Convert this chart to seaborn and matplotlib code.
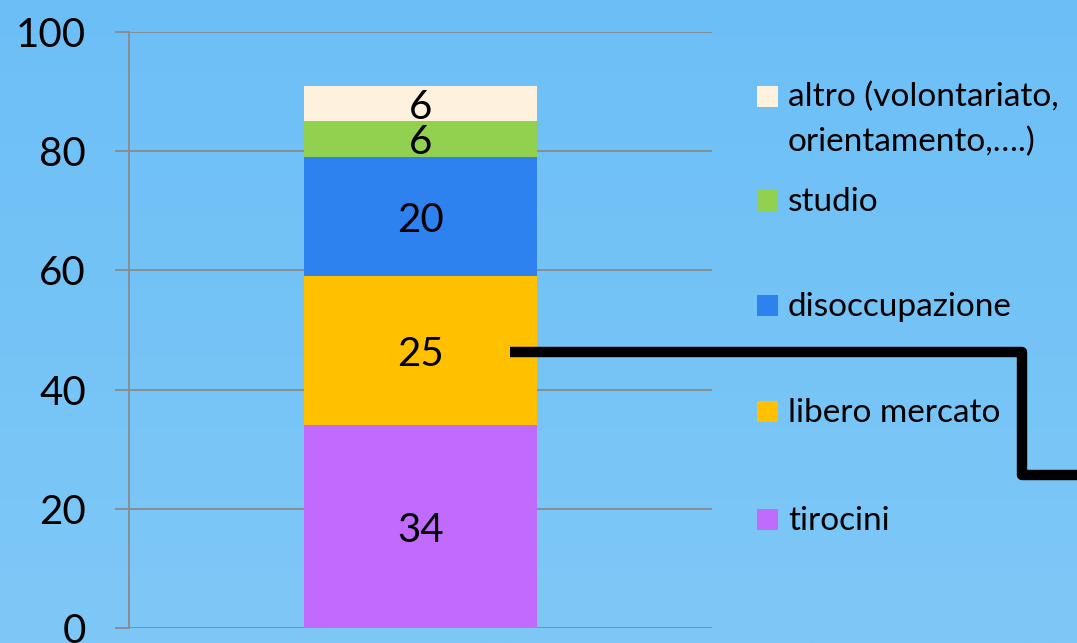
import numpy as np
import pandas as pd
import matplotlib.pyplot as plt
import seaborn as sns
from matplotlib.lines import Line2D
from matplotlib.patches import Rectangle

sns.set_theme(style="white")
plt.rcParams["font.family"] = ["Lato", "DejaVu Sans"]

# stacked segments, bottom to top
categories = ["tirocini", "libero mercato", "disoccupazione", "studio",
              "altro (volontariato,\norientamento,….)"]
values = [34, 25, 20, 6, 6]
colors = ["#C16AFE", "#FFC000", "#2D82F0", "#92D050", "#FEF1DE"]
yticks = [0, 20, 40, 60, 80, 100]

W, H = 1077, 643
fig = plt.figure(figsize=(W / 100, H / 100), dpi=100)

# light blue gradient background
bg = fig.add_axes([0, 0, 1, 1], zorder=-10)
top = np.array([108, 191, 246]) / 255
bot = np.array([126, 200, 247]) / 255
t = np.linspace(0, 1, 256)[:, None, None]
grad = top * (1 - t) + bot * t
bg.imshow(np.repeat(grad, 2, axis=1), aspect="auto", extent=[0, 1, 0, 1])
bg.axis("off")

ax = fig.add_axes([129 / W, 1 - 628 / H, (712 - 129) / W, (628 - 32) / H])
ax.set_facecolor("none")

df = pd.DataFrame({"cat": categories, "value": values})
df["top"] = df["value"].cumsum()
df["mid"] = df["top"] - df["value"] / 2

# draw cumulative bars from tallest to shortest so they stack
for i in range(len(df) - 1, -1, -1):
    sns.barplot(x=[""], y=[df["top"][i]], color=colors[i], width=0.4,
                saturation=1, linewidth=0, ax=ax)

for v, m in zip(df["value"], df["mid"]):
    ax.text(0, m, str(v), ha="center", va="center_baseline", fontsize=29,
            color="black")

ax.set_ylim(0, 100)
ax.set_xlim(-0.5, 0.5)
ax.set_yticks(yticks)
ax.set_xticks([])
ax.set_xlabel("")
ax.set_ylabel("")
grid_c = "#8A8A8A"
ax.yaxis.grid(True, color=grid_c, linewidth=1.3, zorder=0)
ax.set_axisbelow(True)
for s in ["top", "right", "bottom"]:
    ax.spines[s].set_visible(False)
ax.spines["left"].set_color(grid_c)
ax.spines["left"].set_linewidth(1.3)
ax.tick_params(axis="y", length=10, width=1.3, color=grid_c, direction="out",
               pad=21, labelsize=29, labelcolor="black", left=True)

# legend drawn by hand to follow the original spacing (top entry first)
leg_y = [97, 201, 306, 412, 520]
line_h = 44
for k, i in enumerate(range(len(categories) - 1, -1, -1)):
    y = leg_y[k]
    nlines = categories[i].count("\n")
    fig.patches.append(Rectangle((757 / W, 1 - (y + 10) / H), 21 / W, 21 / H,
                                 transform=fig.transFigure, facecolor=colors[i],
                                 edgecolor="none"))
    # baseline of a multi-line text is its last line
    fig.text(788 / W, 1 - (y + 10 + nlines * line_h) / H, categories[i],
             fontsize=24, ha="left", va="baseline", color="black",
             linespacing=1.58)

# connector line
px = [510, 1022, 1022, 1085]
py = [352, 352, 475, 475]
fig.add_artist(Line2D([x / W for x in px], [1 - y / H for y in py],
                      transform=fig.transFigure, color="black", linewidth=7.5,
                      solid_joinstyle="round", solid_capstyle="butt"))

fig.savefig("out.png", dpi=100)
